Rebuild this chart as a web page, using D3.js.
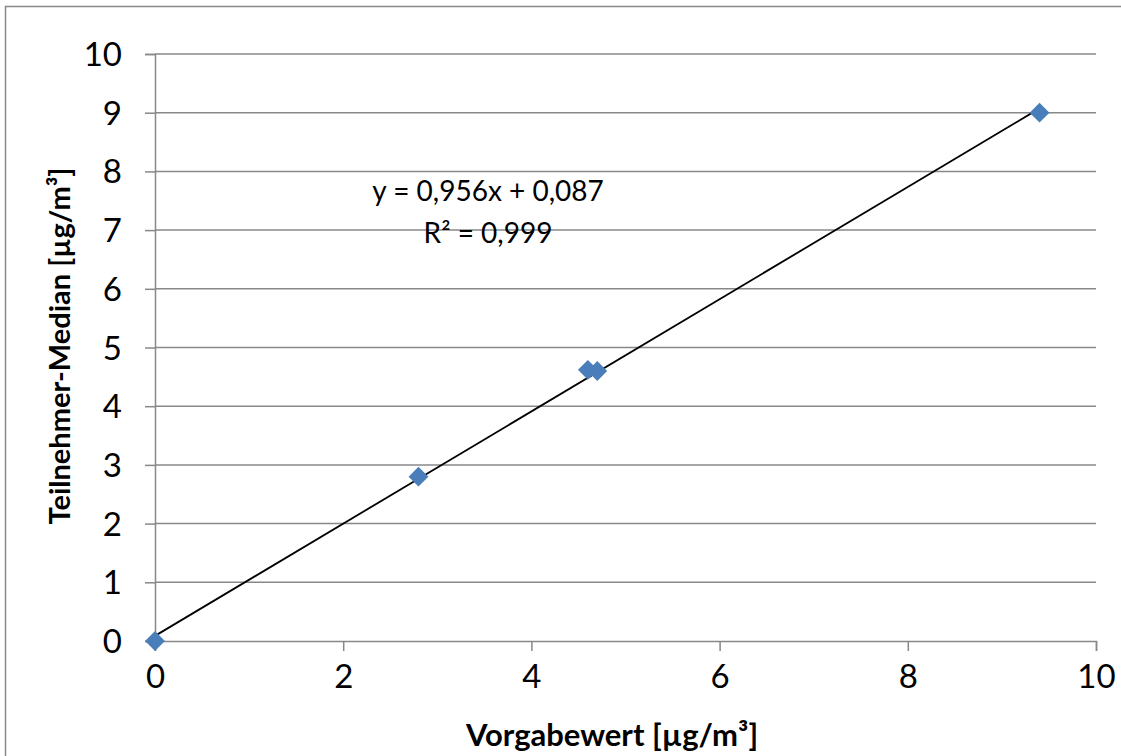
<!DOCTYPE html>
<html><head><meta charset="utf-8">
<script src="https://cdn.jsdelivr.net/npm/d3@7"></script>
<style>body{margin:0;background:#fff;} text{font-family:Lato,"Open Sans",sans-serif;}</style>
</head><body>
<svg id="c" width="1121" height="756"></svg>
<script>
const xValues = [0, 2.8, 4.6, 4.7, 9.4];
const yValues = [0, 2.8, 4.62, 4.6, 9.0];
const xTicks = [0, 2, 4, 6, 8, 10];
const yTicks = [0, 1, 2, 3, 4, 5, 6, 7, 8, 9, 10];
const slope = 0.956, intercept = 0.087;
const eqLabel = "y = 0,956x + 0,087";
const r2Label = "R² = 0,999";
const xTitle = "Vorgabewert [µg/m³]";
const yTitle = "Teilnehmer-Median [µg/m³]";

const svg = d3.select("#c");
svg.append("rect").attr("x",5.5).attr("y",6.5).attr("width",1130).attr("height",760)
  .attr("fill","#fff").attr("stroke","#888").attr("stroke-width",1.5);

const x = d3.scaleLinear().domain([0,10]).range([155,1096]);
const y = d3.scaleLinear().domain([0,10]).range([641,54]);
const grid = "#888";

svg.append("g").selectAll("line").data(yTicks.filter(d=>d>0)).join("line")
  .attr("x1",x(0)).attr("x2",x(10)).attr("y1",d=>y(d)).attr("y2",d=>y(d))
  .attr("stroke",grid).attr("stroke-width",1.5);

const xa = svg.append("g").attr("transform",`translate(0,${y(0)})`)
  .call(d3.axisBottom(x).tickValues(xTicks).tickSize(10).tickPadding(17).tickFormat(d3.format("d")));
const ya = svg.append("g").attr("transform",`translate(${x(0)},0)`)
  .call(d3.axisLeft(y).tickValues(yTicks).tickSize(10).tickPadding(23).tickFormat(d3.format("d")));
[xa,ya].forEach(a=>{
  a.select(".domain").attr("stroke",grid).attr("stroke-width",1.5);
  a.selectAll(".tick line").attr("stroke",grid).attr("stroke-width",1.5);
  a.selectAll(".tick text").attr("font-size",33).attr("fill","#000").attr("font-family","Lato,'Open Sans',sans-serif");
});
ya.selectAll(".tick text").attr("dy","0.35em");
xa.selectAll(".tick text").attr("dy","0.62em");

svg.append("line").attr("x1",x(0)).attr("y1",y(intercept))
  .attr("x2",x(d3.max(xValues))).attr("y2",y(slope*d3.max(xValues)+intercept))
  .attr("stroke","#000").attr("stroke-width",1.8);

const pts = xValues.map((v,i)=>({x:v,y:yValues[i]}));
svg.append("g").selectAll("path").data(pts).join("path")
  .attr("d",d3.symbol().type(d3.symbolDiamond2).size(250))
  .attr("transform",d=>`translate(${x(d.x)},${y(d.y)})`)
  .attr("fill","#4a7ebb");

svg.append("text").attr("x",488).attr("y",201).attr("text-anchor","middle")
  .attr("font-size",28).text(eqLabel);
svg.append("text").attr("x",488).attr("y",243).attr("text-anchor","middle")
  .attr("font-size",28).text(r2Label);

svg.append("text").attr("x",612).attr("y",746).attr("text-anchor","middle")
  .attr("font-size",31).attr("font-weight","bold").text(xTitle);
svg.append("text").attr("transform","translate(70,346) rotate(-90)").attr("text-anchor","middle")
  .attr("font-size",29).attr("font-weight","bold").text(yTitle);
</script>
</body></html>
